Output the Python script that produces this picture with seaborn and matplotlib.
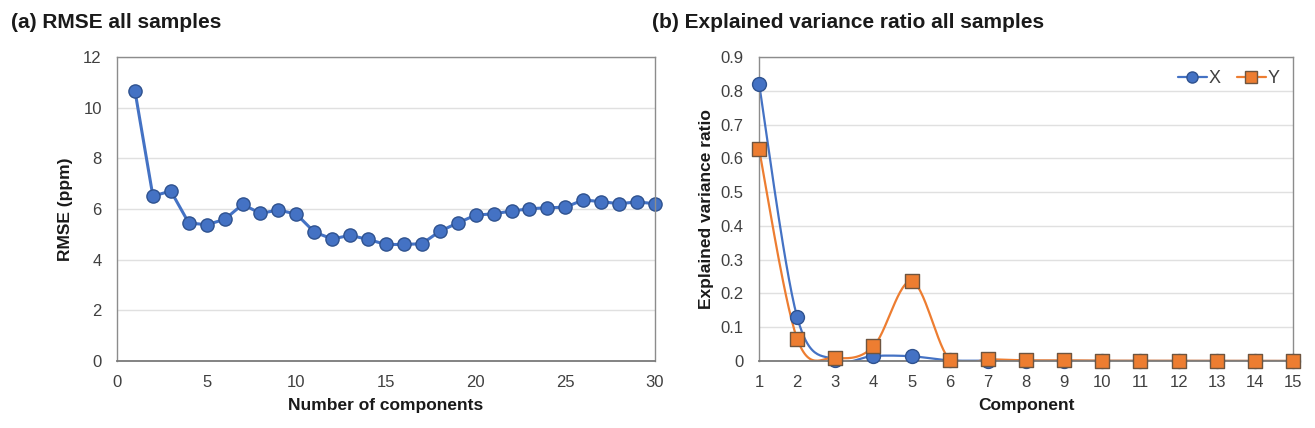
import numpy as np
import pandas as pd
import matplotlib
matplotlib.use("Agg")
import matplotlib.pyplot as plt
from matplotlib.lines import Line2D
from matplotlib.ticker import FuncFormatter
import seaborn as sns

# ---------------- data ----------------
n_components = list(range(1, 31))
rmse = [10.66, 6.51, 6.71, 5.45, 5.38, 5.59, 6.18, 5.83, 5.96, 5.80,
        5.09, 4.82, 4.96, 4.80, 4.60, 4.60, 4.63, 5.12, 5.45, 5.76,
        5.81, 5.92, 6.01, 6.05, 6.07, 6.36, 6.29, 6.21, 6.28, 6.21]

component = list(range(1, 16))
evr_x = [0.821, 0.130, 0.003, 0.015, 0.014, 0.002, 0.001, 0.0005, 0.0003, 0.0002,
         0.0001, 0.0001, 0.0001, 0.0, 0.0]
evr_y = [0.627, 0.066, 0.010, 0.043, 0.236, 0.003, 0.005, 0.002, 0.002, 0.001,
         0.001, 0.001, 0.0005, 0.0005, 0.0003]

title_a = "(a) RMSE all samples"
title_b = "(b) Explained variance ratio all samples"

BLUE = "#4472C4"
BLUE_EDGE = "#2F528F"
ORANGE = "#ED7D31"
ORANGE_EDGE = "#6E5540"
TICK_C = "#404040"
GRID_C = "#E0E0E0"
FRAME_C = "#8C8C8C"


def smooth(x, y, n=30):
    """Catmull-Rom style smoothing (Excel 'smoothed line' look)."""
    x = np.asarray(x, float)
    y = np.asarray(y, float)
    xs, ys = [], []
    for i in range(len(x) - 1):
        p0 = (x[i - 1], y[i - 1]) if i > 0 else (x[i], y[i])
        p1 = (x[i], y[i])
        p2 = (x[i + 1], y[i + 1])
        p3 = (x[i + 2], y[i + 2]) if i + 2 < len(x) else (x[i + 1], y[i + 1])
        t = np.linspace(0, 1, n, endpoint=(i == len(x) - 2))
        for k in range(2):
            a, b, c, d = p0[k], p1[k], p2[k], p3[k]
            v = 0.5 * ((2 * b) + (-a + c) * t + (2 * a - 5 * b + 4 * c - d) * t ** 2
                       + (-a + 3 * b - 3 * c + d) * t ** 3)
            (xs if k == 0 else ys).append(v)
    return np.concatenate(xs), np.concatenate(ys)


sns.set_theme(style="white")
plt.rcParams["font.family"] = ["Liberation Sans", "DejaVu Sans"]

LBL_SIZE = 12.5
TTL_SIZE = 15

fig = plt.figure(figsize=(13.15, 4.28), dpi=100)
ax1 = fig.add_axes([0.0890, 0.1565, 0.4091, 0.7103])
ax2 = fig.add_axes([0.5772, 0.1565, 0.4061, 0.7103])


def style_axes(ax):
    for s in ax.spines.values():
        s.set_color(FRAME_C)
        s.set_linewidth(1.0)
    ax.spines["bottom"].set_color("#7A7A7A")
    ax.spines["bottom"].set_linewidth(1.3)
    ax.grid(axis="y", color=GRID_C, linewidth=1.0)
    ax.set_axisbelow(True)
    ax.tick_params(axis="both", length=0, labelsize=12, labelcolor=TICK_C)
    ax.tick_params(axis="y", pad=11)
    ax.tick_params(axis="x", pad=10)


# ---------------- panel (a) ----------------
df_a = pd.DataFrame({"n": n_components, "rmse": rmse})
sns.lineplot(data=df_a, x="n", y="rmse", ax=ax1, color=BLUE, linewidth=2.2,
             marker="o", markersize=9.5, markerfacecolor=BLUE,
             markeredgecolor=BLUE_EDGE, markeredgewidth=1.0, clip_on=False)
ax1.set_xlim(0, 30)
ax1.set_ylim(0, 12)
ax1.set_xticks(range(0, 31, 5))
ax1.set_yticks(range(0, 13, 2))
style_axes(ax1)
ax1.set_xlabel("Number of components", fontsize=LBL_SIZE, fontweight="bold",
               color="#1a1a1a", labelpad=6)
ax1.set_ylabel("RMSE (ppm)", fontsize=LBL_SIZE, fontweight="bold",
               color="#1a1a1a", labelpad=7)

# ---------------- panel (b) ----------------
sx, sy = smooth(component, evr_x)
tx, ty = smooth(component, evr_y)
sns.lineplot(x=sx, y=sy, ax=ax2, color=BLUE, linewidth=1.6, sort=False, estimator=None)
sns.lineplot(x=tx, y=ty, ax=ax2, color=ORANGE, linewidth=1.6, sort=False, estimator=None)
sns.scatterplot(x=component, y=evr_x, ax=ax2, marker="o", s=100, color=BLUE,
                edgecolor=BLUE_EDGE, linewidth=1.0, zorder=3, clip_on=False)
sns.scatterplot(x=component, y=evr_y, ax=ax2, marker="s", s=100, color=ORANGE,
                edgecolor=ORANGE_EDGE, linewidth=1.0, zorder=4, clip_on=False)
ax2.set_xlim(1, 15)
ax2.set_ylim(0, 0.9)
ax2.set_xticks(range(1, 16))
ax2.set_yticks(np.round(np.arange(0, 0.91, 0.1), 1))
ax2.yaxis.set_major_formatter(FuncFormatter(lambda v, p: "0" if abs(v) < 1e-9 else f"{v:.1f}"))
style_axes(ax2)
ax2.set_xlabel("Component", fontsize=LBL_SIZE, fontweight="bold",
               color="#1a1a1a", labelpad=6)
ax2.set_ylabel("Explained variance ratio", fontsize=LBL_SIZE, fontweight="bold",
               color="#1a1a1a", labelpad=5)

handles = [
    Line2D([0], [0], color=BLUE, lw=1.6, marker="o", markersize=8,
           markerfacecolor=BLUE, markeredgecolor=BLUE_EDGE),
    Line2D([0], [0], color=ORANGE, lw=1.6, marker="s", markersize=8.5,
           markerfacecolor=ORANGE, markeredgecolor=ORANGE_EDGE),
]
leg = ax2.legend(handles, ["X", "Y"], loc="upper right", ncol=2, frameon=False,
                 fontsize=13, handlelength=1.6, handletextpad=0.1, columnspacing=0.9,
                 bbox_to_anchor=(1.005, 1.01))
for t in leg.get_texts():
    t.set_color(TICK_C)

# ---------------- titles ----------------
fig.text(0.008, 0.948, title_a, fontsize=TTL_SIZE, fontweight="bold",
         color="#1a1a1a", va="center")
fig.text(0.496, 0.948, title_b, fontsize=TTL_SIZE, fontweight="bold",
         color="#1a1a1a", va="center")

fig.savefig("out.png", dpi=100)
